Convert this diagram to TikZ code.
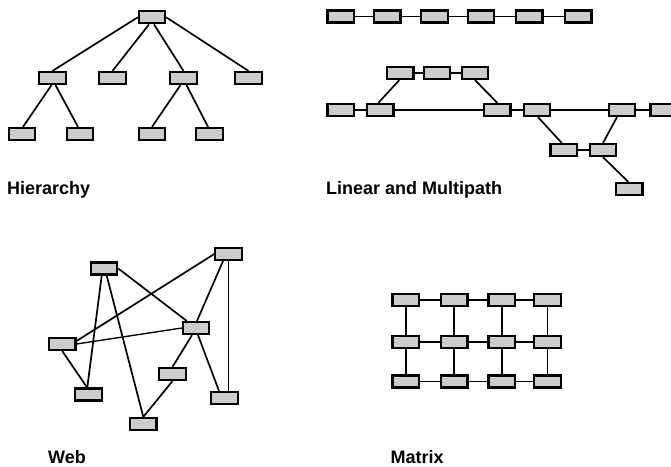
\documentclass[tikz,border=0pt]{standalone}
\usepackage{fontspec}
\setmainfont{Liberation Sans}
\usetikzlibrary{backgrounds}
\definecolor{boxgray}{HTML}{CCCCCC}
\begin{document}
\begin{tikzpicture}[x=1pt,y=-1pt,
  box/.style={draw=black, line width=2.2pt, fill=boxgray, minimum width=26.3pt, minimum height=12pt, inner sep=0pt},
  link/.style={line width=1.7pt},
  thinlink/.style={line width=1.35pt},
  lbl/.style={anchor=base west, inner sep=0pt, font=\bfseries\fontsize{18}{20}\selectfont}]
\useasboundingbox (0,0) rectangle (671,466);

% ---------- Hierarchy ----------
\node[box] (ht) at (152,17.3) {};
\node[box] (h1) at (52.5,78) {};
\node[box] (h2) at (112.5,78) {};
\node[box] (h3) at (183.5,78) {};
\node[box] (h4) at (248.5,78) {};
\node[box] (h5) at (22,134) {};
\node[box] (h6) at (80,134) {};
\node[box] (h7) at (152,134) {};
\node[box] (h8) at (209.5,134) {};
\node[lbl] (hlabel) at (7,194.3) {Hierarchy};

% ---------- Linear ----------
\node[box] (r1) at (340.7,16.5) {};
\node[box] (r2) at (387.3,16.5) {};
\node[box] (r3) at (434.5,16.5) {};
\node[box] (r4) at (481,16.5) {};
\node[box] (r5) at (529.3,16.5) {};
\node[box] (r6) at (578.3,16.5) {};

% ---------- Multipath ----------
\node[box] (t1) at (400.3,73) {};
\node[box] (t2) at (437,73) {};
\node[box] (t3) at (475,73) {};
\node[box] (m1) at (340.7,110) {};
\node[box] (m2) at (380.3,110) {};
\node[box] (m3) at (497.3,110) {};
\node[box] (m4) at (537,110) {};
\node[box] (m5) at (622,110) {};
\node[box] (m6) at (663.6,110) {};
\node[box] (l1) at (563.7,150) {};
\node[box] (l2) at (603,150) {};
\node[box] (b1) at (629.3,189) {};
\node[lbl] (llabel) at (326,194.3) {Linear and Multipath};

% ---------- Web ----------
\node[box] (w1) at (104,268.5) {};
\node[box] (w2) at (228.5,254) {};
\node[box] (w3) at (196,328) {};
\node[box] (w4) at (62.3,344) {};
\node[box] (w5) at (172.5,374) {};
\node[box] (w6) at (88.5,394.5) {};
\node[box] (w7) at (224.5,398) {};
\node[box] (w8) at (143.3,424) {};
\node[lbl] (wlabel) at (48,463.3) {Web};

% ---------- Matrix ----------
\foreach \c/\x in {1/405.7,2/454.3,3/501.7,4/547.5}{
  \foreach \r/\y in {1/300,2/342,3/381.5}{
    \node[box] (x\r\c) at (\x,\y) {};
  }
}
\node[lbl] (xlabel) at (390.5,463.3) {Matrix};

\begin{scope}[on background layer]
  % hierarchy
  \draw[link] (ht.west) -- (h1.north);
  \draw[link] ([xshift=-3pt]ht.south) -- (h2.north);
  \draw[link] ([xshift=2pt]ht.south) -- (h3.north);
  \draw[link] (ht.east) -- (h4.north);
  \draw[link] ([xshift=-1pt]h1.south) -- ([xshift=1pt]h5.north);
  \draw[link] ([xshift=3pt]h1.south) -- ([xshift=-2pt]h6.north);
  \draw[link] ([xshift=-3pt]h3.south) -- (h7.north);
  \draw[link] ([xshift=3pt]h3.south) -- ([xshift=-1.5pt]h8.north);
  % linear
  \draw[link] (r1) -- (r2);
  \draw[link] (r2) -- (r3);
  \draw[link] (r3) -- (r4);
  \draw[link] (r4) -- (r5);
  \draw[link] (r5) -- (r6);
  % multipath
  \draw[link] (t1) -- (t2);
  \draw[link] (t2) -- (t3);
  \draw[link] (m1) -- (m2);
  \draw[thinlink] (m2) -- (m3);
  \draw[link] (m3) -- (m4);
  \draw[thinlink] (m4) -- (m5);
  \draw[link] (m5) -- (m6);
  \draw[link] ([xshift=-2pt]m2.north) -- ([xshift=-1pt]t1.south);
  \draw[link] (t3.south) -- (m3.north);
  \draw[link] ([xshift=1pt]m4.south) -- ([xshift=-2pt]l1.north);
  \draw[link] (l1) -- (l2);
  \draw[link] (l2.north) -- ([xshift=-5pt]m5.south);
  \draw[link] (l2.south) -- ([xshift=-1pt]b1.north);
  % web
  \draw[link] ([xshift=-2.3pt]w1.south) -- ([xshift=-1.2pt]w6.north);
  \draw[link] ([xshift=2.7pt]w1.south) -- (w8.north);
  \draw[link] (w1.east) -- (w3);
  \draw[link] (w2.west) -- ([yshift=3pt]w4.east);
  \draw[link] ([xshift=-5.5pt]w2.south) -- ([xshift=1pt]w3.north);
  \draw[thinlink] (w2.south) -- (w2.south |- w7.north);
  \draw[thinlink] (w4.east) -- (w3.west);
  \draw[link] (w4.south) -- ([xshift=-1.5pt]w6.north);
  \draw[link] ([xshift=-4pt]w3.south) -- (w5.north);
  \draw[link] ([xshift=2pt]w3.south) -- ([xshift=-5.5pt]w7.north);
  \draw[link] (w5.south) -- (w8.north);
  % matrix
  \foreach \r in {1,2,3}{
    \draw[thinlink] (x\r1) -- (x\r2);
    \draw[thinlink] (x\r2) -- (x\r3);
    \draw[thinlink] (x\r3) -- (x\r4);
  }
  \foreach \c in {1,2,3,4}{
    \draw[link] (x1\c) -- (x2\c);
    \draw[link] (x2\c) -- (x3\c);
  }
\end{scope}
\end{tikzpicture}
\end{document}
